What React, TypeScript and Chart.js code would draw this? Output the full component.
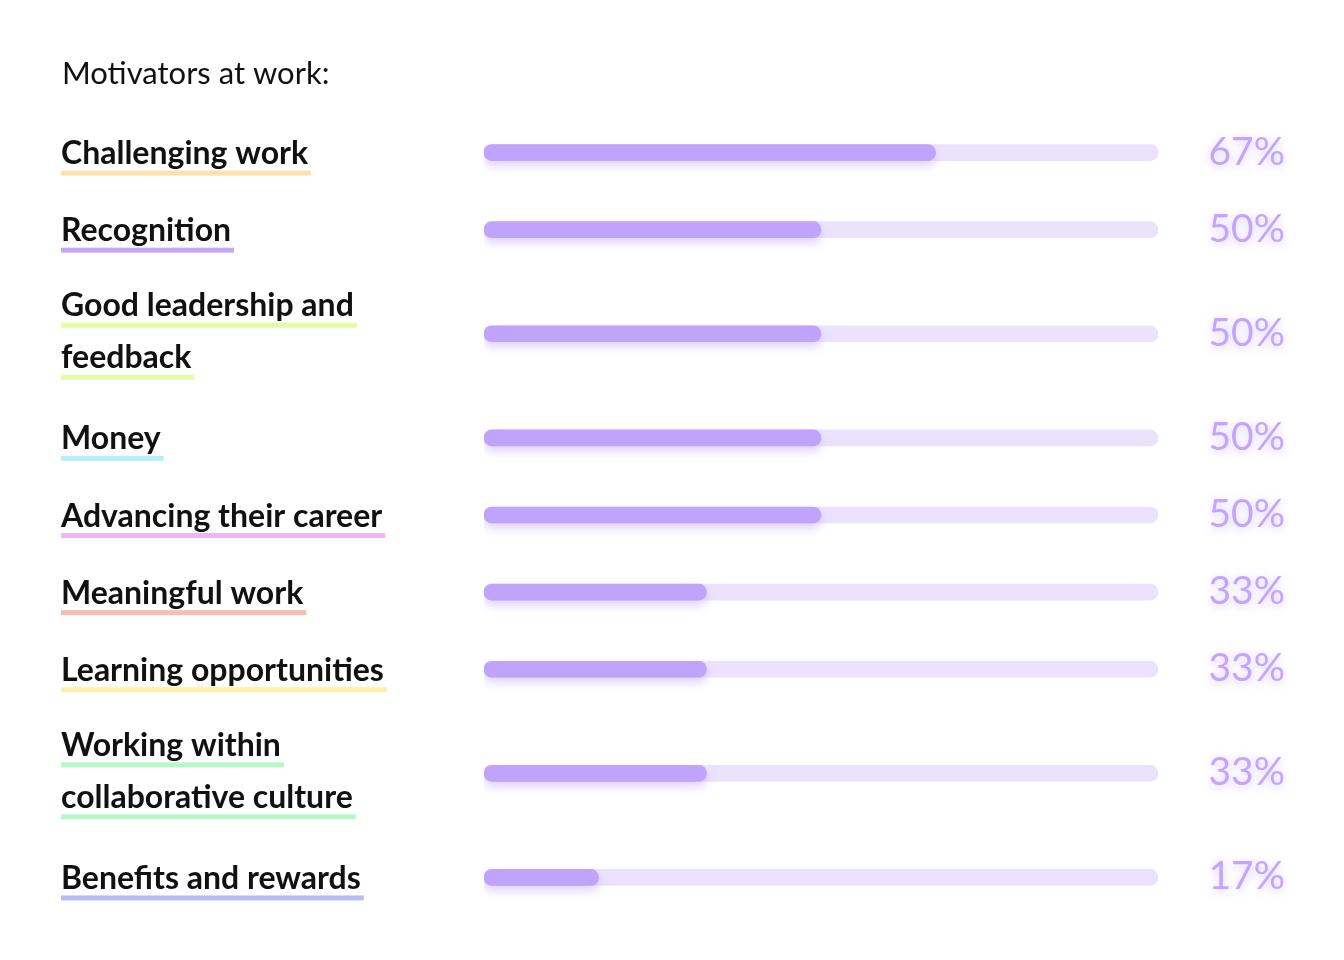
import React, { useEffect, useRef } from "react";
import { Chart, registerables } from "chart.js";

Chart.register(...registerables);

const title = "Motivators at work:";
const categories: string[][] = [
  ["Challenging work"],
  ["Recognition"],
  ["Good leadership and", "feedback"],
  ["Money"],
  ["Advancing their career"],
  ["Meaningful work"],
  ["Learning opportunities"],
  ["Working within", "collaborative culture"],
  ["Benefits and rewards"],
];
const values = [67, 50, 50, 50, 50, 33, 33, 33, 17];
const trackValues = [100, 100, 100, 100, 100, 100, 100, 100, 100];
const underlineColors = [
  "#fde0b0",
  "#c6a8f8",
  "#e5fba6",
  "#b9eef9",
  "#f1b5f6",
  "#fbbcb4",
  "#fdf0a8",
  "#b8f7c6",
  "#b7bbf6",
];

const FILL = "#c0a4fb";
const TRACK = "#ebe3fd";
const PCT = "#c2a6fb";
const LABEL_FONT = "Lato, 'Open Sans', sans-serif";

// row slots derived from how many lines each label has
const rowUnits = categories.map((c) => (c.length > 1 ? 1.7 : 1));
const rowCenters: number[] = [];
{
  let acc = 0;
  rowUnits.forEach((u) => {
    rowCenters.push(acc + u / 2);
    acc += u;
  });
}
const totalUnits = rowUnits.reduce((a, b) => a + b, 0);

const labelsPlugin = {
  id: "motivatorLabels",
  beforeDatasetDraw(chart: any, args: any) {
    const ctx = chart.ctx;
    ctx.save();
    if (args.index === 0) {
      ctx.shadowColor = "rgba(165, 125, 250, 0.35)";
      ctx.shadowBlur = 10;
      ctx.shadowOffsetY = 5;
    }
  },
  afterDatasetDraw(chart: any) {
    chart.ctx.restore();
  },
  afterDraw(chart: any) {
    const ctx = chart.ctx;
    const y = chart.scales.y;
    ctx.save();
    // title
    ctx.fillStyle = "#111111";
    ctx.font = `400 31px ${LABEL_FONT}`;
    ctx.textAlign = "left";
    ctx.textBaseline = "alphabetic";
    ctx.fillText(title, 54, 76);

    const lineGap = 52;
    categories.forEach((lines, i) => {
      const cy = y.getPixelForValue(rowCenters[i]);
      ctx.font = `700 32px ${LABEL_FONT}`;
      const n = lines.length;
      lines.forEach((line, j) => {
        const capMid = cy + (j - (n - 1) / 2) * lineGap - (n > 1 ? 3 : 0);
        const baseline = capMid + 11.5;
        const w = ctx.measureText(line).width;
        ctx.fillStyle = underlineColors[i];
        ctx.fillRect(53, baseline + 6.5, w + 3, 5);
        ctx.fillStyle = "#111111";
        ctx.textAlign = "left";
        ctx.fillText(line, 53, baseline);
      });
      // percentage
      ctx.save();
      ctx.font = `400 39px ${LABEL_FONT}`;
      ctx.fillStyle = PCT;
      ctx.textAlign = "right";
      ctx.shadowColor = "rgba(170, 130, 250, 0.45)";
      ctx.shadowBlur = 10;
      ctx.shadowOffsetY = 2;
      ctx.fillText(`${values[i]}%`, 1277, cy - 2 + 14);
      ctx.restore();
    });
    ctx.restore();
  },
};

export default function App() {
  const ref = useRef<HTMLCanvasElement | null>(null);
  useEffect(() => {
    if (!ref.current) return;
    const chart = new Chart(ref.current, {
      type: "bar",
      data: {
        datasets: [
          {
            label: "Share",
            data: values.map((v, i) => ({ x: v, y: rowCenters[i] })),
            backgroundColor: FILL,
            borderRadius: 8,
            borderSkipped: false,
            barThickness: 16,
            grouped: false,
            order: 0,
          } as any,
          {
            label: "Track",
            data: trackValues.map((v, i) => ({ x: v, y: rowCenters[i] })),
            backgroundColor: TRACK,
            borderRadius: 8,
            borderSkipped: false,
            barThickness: 16,
            grouped: false,
            order: 1,
          } as any,
        ],
      },
      options: {
        indexAxis: "y",
        responsive: false,
        animation: false,
        layout: { padding: { left: 476, right: 178, top: 106, bottom: 36 } },
        scales: {
          x: { type: "linear", min: 0, max: 100, display: false },
          y: {
            type: "linear",
            min: 0,
            max: totalUnits,
            reverse: true,
            offset: false,
            display: false,
          },
        },
        plugins: {
          legend: { display: false },
          tooltip: { enabled: false },
          title: { display: false },
        },
      },
      plugins: [labelsPlugin],
    });
    return () => chart.destroy();
  }, []);
  return (
    <div style={{ width: 1328, height: 944 }}>
      <canvas ref={ref} width={1328} height={944} />
    </div>
  );
}
